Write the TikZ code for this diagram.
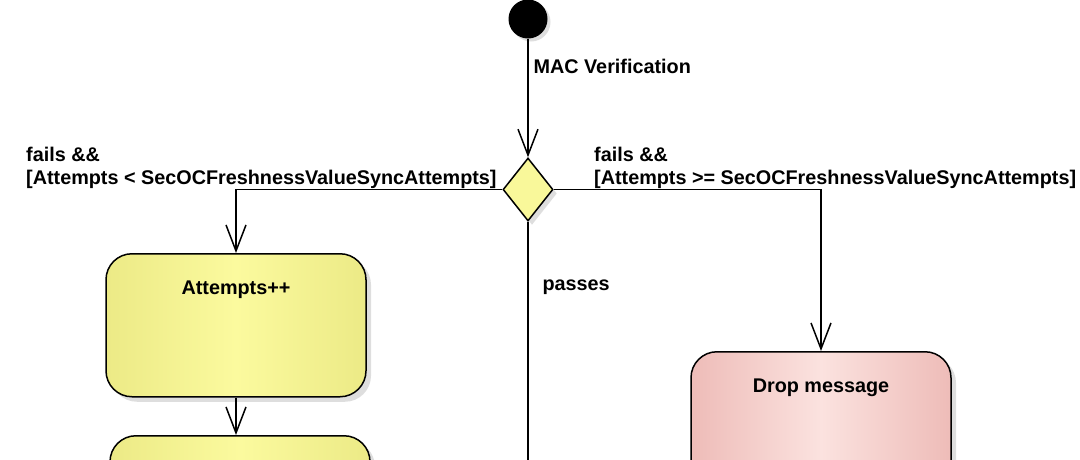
\documentclass[tikz,border=0pt]{standalone}
\usepackage{fontspec}
\setmainfont{Liberation Sans}
\usetikzlibrary{shapes.geometric,arrows.meta,shadows,positioning}
\definecolor{amarilloBorde}{HTML}{ECEA86}
\definecolor{amarilloCentro}{HTML}{FBFA9E}
\definecolor{rosaBorde}{HTML}{EEBCB8}
\definecolor{rosaCentro}{HTML}{FBE2DF}
\definecolor{sombra}{HTML}{BDBDBD}

\begin{document}
\begin{tikzpicture}[x=1pt,y=-1pt,font=\fontsize{19.8}{23}\selectfont\bfseries]
      % Definición de estilos
      \tikzstyle{accion}=[draw, line width=1.5pt, rounded corners=26pt, minimum width=260pt, minimum height=143pt, left color=amarilloBorde, right color=amarilloBorde, middle color=amarilloCentro, drop shadow={shadow xshift=5pt, shadow yshift=-5pt, fill=sombra}]
      \tikzstyle{fin}=[accion, left color=rosaBorde, right color=rosaBorde, middle color=rosaCentro]
      \tikzstyle{decision}=[draw, diamond, line width=1.5pt, inner sep=0pt, minimum width=50pt, minimum height=63pt, fill=amarilloCentro!85!amarilloBorde, drop shadow={shadow xshift=4pt, shadow yshift=-4pt, fill=sombra}]
      \tikzstyle{inicial}=[circle, fill=black, minimum size=39pt, inner sep=0pt, drop shadow={shadow xshift=3pt, shadow yshift=-3pt, fill=sombra}]
      \tikzstyle{flujo}=[line width=1.5pt, -{Straight Barb[length=26pt,width=20pt,line width=1.5pt]}]

      \useasboundingbox (0,0) rectangle (1080,459);
      \clip (0,0) rectangle (1080,459);

      % Nodos
      \node[inicial] (inicio) at (528,19) {};
      \node[decision] (verif) at (528,189.5) {};
      \node[accion, anchor=north, label={[anchor=north, yshift=-24pt]north:Attempts++}] (intentos) at (236,253) {};
      \node[accion, anchor=north] (siguiente) at (240,435) {};
      \node[fin, anchor=north, label={[anchor=north, yshift=-24pt]north:Drop message}] (descartar) at (821,351) {};
      \coordinate (pasaFin) at (528,480);

      % Conexiones
      \draw[flujo] (inicio) -- (verif);
      \draw[flujo] (verif.west) -| (intentos.north);
      \draw[flujo] (verif.east) -| (descartar.north);
      \draw[flujo] (intentos.south) -- (intentos.south |- siguiente.north);
      \draw[line width=1.5pt] (verif.south) -- (pasaFin);

      % Etiquetas de transición
      \node[anchor=west] (macTxt) at (530,66) {MAC Verification};
      \node[anchor=north west, align=left, inner sep=0pt] (fallaMenor) at (26,147) {fails \&\&\\{}[Attempts < SecOCFreshnessValueSyncAttempts]};
      \node[anchor=north west, align=left, inner sep=0pt] (fallaMayor) at (594,147) {fails \&\&\\{}[Attempts >= SecOCFreshnessValueSyncAttempts]};
      \node[anchor=west] (pasaTxt) at (539,287) {passes};
    \end{tikzpicture}
\end{document}
